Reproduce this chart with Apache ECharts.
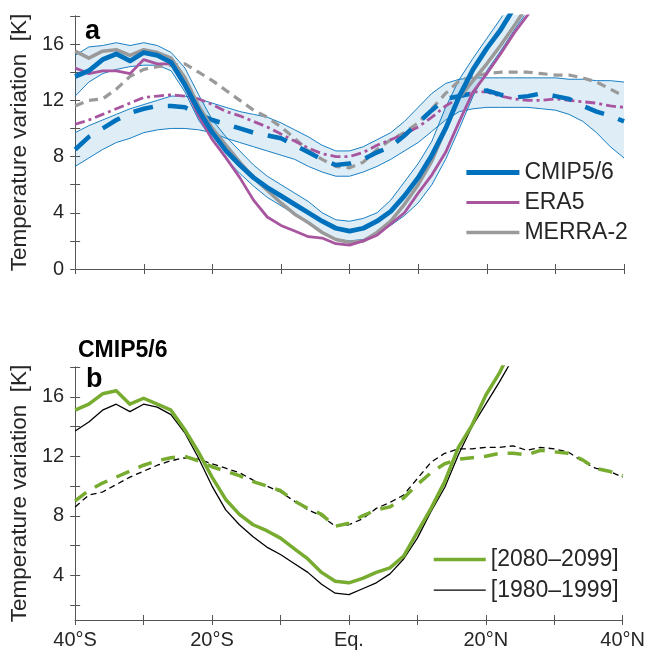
<!DOCTYPE html>
<html>
<head>
<meta charset="utf-8">
<script src="https://cdn.jsdelivr.net/npm/echarts@6/dist/echarts.min.js"></script>
<style>
  html, body { margin: 0; padding: 0; background: #fff; }
  #chart { width: 648px; height: 657px; }
</style>
</head>
<body>
<div id="chart"></div>
<script>
// latitude grid, 2 degree steps
const lat = [-40,-38,-36,-34,-32,-30,-28,-26,-24,-22,-20,-18,-16,-14,-12,-10,-8,-6,-4,-2,0,
             2,4,6,8,10,12,14,16,18,20,22,24,26,28,30,32,34,36,38,40];
const latLabels = {'-40': '40°S', '-20': '20°S', '0': 'Eq.', '20': '20°N', '40': '40°N'};

// panel a
const cmipSolid   = [13.7,14.1,14.9,15.3,14.8,15.4,15.2,14.7,13.1,11.3,9.7,8.4,7.4,6.5,5.8,5.2,4.6,4.0,3.4,2.9,2.7,
                     2.9,3.4,4.1,5.2,6.5,8.1,10.0,12.3,14.2,15.7,17.0,18.6,null,null,null,null,null,null,null,null];
const cmipSolidHi = [15.2,15.8,15.9,16.1,15.9,16.1,15.9,15.4,14.3,12.4,10.6,9.4,8.4,7.4,6.6,6.0,5.4,4.8,4.0,3.5,3.4,
                     3.6,4.0,4.9,6.2,7.5,9.1,11.5,13.5,15.0,16.4,17.8,19.3,20.8,null,null,null,null,null,null,null];
const cmipSolidLo = [12.3,13.3,13.9,14.2,14.4,14.5,14.5,14.1,12.6,10.6,9.2,7.8,6.8,5.9,5.1,4.5,3.9,3.2,2.6,2.1,2.0,
                     2.1,2.5,3.1,3.8,4.7,6.0,7.8,10.0,12.3,14.1,15.5,17.0,18.4,null,null,null,null,null,null,null];
const cmipDash    = [8.5,9.4,10.0,10.6,11.1,11.4,11.6,11.6,11.5,11.0,10.6,10.3,10.0,9.7,9.5,9.3,8.8,8.3,7.8,7.4,7.5,
                     7.8,8.3,8.7,9.5,10.4,11.3,12.1,12.3,12.5,12.7,12.4,12.2,12.3,12.5,12.3,12.1,11.6,11.2,10.9,10.5];
const cmipDashHi  = [9.7,10.2,10.6,11.0,11.4,11.7,12.0,12.3,12.3,12.1,11.8,11.5,11.2,11.0,10.8,10.4,9.9,9.4,8.8,8.4,8.4,
                     8.7,9.2,9.7,10.5,11.5,12.5,13.2,13.5,13.6,13.6,13.6,13.6,13.6,13.6,13.6,13.5,13.5,13.4,13.4,13.3];
const cmipDashLo  = [7.3,7.9,8.5,9.0,9.3,9.7,9.9,10.0,10.0,9.9,9.7,9.3,9.0,8.7,8.4,8.1,7.8,7.3,6.9,6.6,6.6,
                     6.9,7.3,7.8,8.4,9.0,9.8,10.6,11.2,11.4,11.5,11.5,11.5,11.5,11.4,11.3,11.0,10.5,9.7,8.7,7.9];
const era5Solid   = [14.3,13.9,14.1,14.1,13.9,14.9,14.6,14.6,13.0,10.9,9.2,7.9,6.5,4.9,3.7,3.1,2.7,2.3,2.2,1.8,1.7,
                     2.0,2.4,3.2,4.0,5.4,6.7,8.3,10.5,12.6,13.9,15.3,16.8,18.1,19.4,null,null,null,null,null,null];
const era5Dash    = [10.3,10.6,11.0,11.4,11.8,12.2,12.3,12.4,12.3,12.1,11.7,11.2,10.9,10.5,10.1,9.6,9.1,8.6,8.2,8.0,8.0,
                     8.3,8.8,9.2,9.6,10.1,10.8,11.6,12.2,12.6,12.6,12.3,12.1,12.0,12.0,12.1,12.0,11.9,11.8,11.6,11.5];
const merraSolid  = [15.5,15.0,15.5,15.6,15.2,15.6,15.4,15.0,13.6,11.6,10.0,8.8,7.6,6.5,5.6,4.7,3.9,3.3,2.6,2.1,1.9,
                     2.0,2.6,3.4,4.6,6.0,7.7,10.0,12.2,13.4,14.6,15.9,17.3,18.8,null,null,null,null,null,null,null];
const merraDash   = [11.6,12.0,12.1,12.8,13.7,14.2,14.4,14.5,14.6,14.0,13.4,12.7,12.0,11.3,10.8,10.1,9.3,8.4,7.8,7.3,7.2,
                     7.6,8.5,9.2,9.7,10.4,11.4,12.5,13.4,13.7,13.9,14.0,14.0,14.0,13.9,13.8,13.8,13.6,13.3,12.8,12.3];

// panel b (CMIP5/6 periods)
const futSolid  = [15.1,15.5,16.2,16.4,15.5,15.9,15.5,15.1,13.8,12.3,10.6,9.1,8.1,7.4,7.0,6.5,5.8,5.1,4.2,3.6,3.5,
                   3.8,4.2,4.5,5.3,6.9,8.5,10.3,12.6,14.1,16.1,17.6,19.5,null,null,null,null,null,null,null,null];
const histSolid = [13.7,14.3,15.1,15.5,15.0,15.5,15.3,14.8,13.6,11.9,10.0,8.4,7.4,6.6,5.9,5.4,4.8,4.2,3.4,2.8,2.7,
                   3.1,3.5,4.1,5.1,6.5,8.3,9.9,12.1,14.0,15.5,17.0,18.6,null,null,null,null,null,null,null,null];
const futDash   = [9.0,9.7,10.2,10.6,11.0,11.4,11.7,11.9,12.0,11.7,11.3,11.0,10.7,10.3,10.0,9.7,9.0,8.5,8.1,7.3,7.5,
                   8.0,8.4,8.6,9.2,10.1,10.9,11.5,11.8,11.9,12.0,12.2,12.2,12.1,12.4,12.3,12.2,11.8,11.2,11.0,10.7];
const histDash  = [8.6,9.4,9.6,10.1,10.6,11.0,11.4,11.7,11.9,11.8,11.5,11.2,10.9,10.4,10.0,9.6,9.0,8.4,8.0,7.3,7.4,
                   7.8,8.5,8.9,9.4,10.5,11.6,12.2,12.5,12.5,12.6,12.6,12.7,12.4,12.6,12.5,12.3,11.7,11.2,11.0,10.6];

const yTicksA = [0, 4, 8, 12, 16];
const yMinorA = [0, 2, 4, 6, 8, 10, 12, 14, 16, 18];
const yTicksB = [4, 8, 12, 16];
const yMinorB = [2, 4, 6, 8, 10, 12, 14, 16, 18];

const FONT = '"Liberation Sans", Arial, sans-serif';
const TXT = '#262626';
const AX = '#555555';
const BLUE = '#0072BD', PURPLE = '#A8559F', GRAY = '#9A9A9A', GREEN = '#77AC30';
const BANDFILL = 'rgba(0,114,189,0.13)';

function diff(hi, lo) {
    return hi.map((v, i) => (v == null || lo[i] == null) ? null : +(v - lo[i]).toFixed(2));
}

function line(name, data, gi, color, width, type, z) {
    return {
        name: name, type: 'line', data: data,
        xAxisIndex: gi * 2, yAxisIndex: gi * 2,
        symbol: 'none', silent: true, z: z || 2,
        color: color,
        lineStyle: {color: color, width: width, type: type || 'solid', cap: 'butt', join: 'round'}
    };
}

// shaded spread: invisible lower line + stacked difference with area fill
function band(id, hi, lo) {
    return [
        {type: 'line', data: lo, stack: id, symbol: 'none', silent: true, z: 1,
         lineStyle: {opacity: 0}, xAxisIndex: 0, yAxisIndex: 0},
        {type: 'line', data: diff(hi, lo), stack: id, symbol: 'none', silent: true, z: 1,
         lineStyle: {opacity: 0}, areaStyle: {color: BANDFILL, opacity: 1}, xAxisIndex: 0, yAxisIndex: 0}
    ];
}

// two axes per side so the ticks cross the axis line
function xAxes(gi, showLabels) {
    const base = {
        type: 'category', data: lat, gridIndex: gi, boundaryGap: false, position: 'bottom',
        axisLine: {lineStyle: {color: AX, width: 1}},
        axisTick: {interval: 4, length: 5, lineStyle: {color: AX}},
        axisLabel: {show: false}, splitLine: {show: false}
    };
    const main = Object.assign({}, base, {
        axisLabel: {
            show: showLabels, interval: 9, margin: 10, color: TXT, fontSize: 20, fontFamily: FONT,
            formatter: v => latLabels[v] || ''
        }
    });
    const inner = Object.assign({}, base, {axisTick: {interval: 4, inside: true, length: 5, lineStyle: {color: AX}}});
    return [main, inner];
}

function yAxes(gi, min, max, labels, ticks, name) {
    const base = {
        type: 'value', gridIndex: gi, min: min, max: max, position: 'left',
        axisLine: {show: true, lineStyle: {color: AX, width: 1}},
        axisTick: {show: true, length: 5, lineStyle: {color: AX}, customValues: ticks},
        axisLabel: {show: false}, splitLine: {show: false}
    };
    const main = Object.assign({}, base, {
        name: name, nameLocation: 'middle', nameGap: 42,
        nameTextStyle: {color: TXT, fontSize: 22.5, fontFamily: FONT},
        axisLabel: {show: true, margin: 11, color: TXT, fontSize: 20, fontFamily: FONT, customValues: labels}
    });
    const inner = Object.assign({}, base, {
        axisTick: {show: true, inside: true, length: 5, lineStyle: {color: AX}, customValues: ticks}
    });
    return [main, inner];
}

const yTitle = 'Temperature variation  [K]';

const series = [].concat(
    band('solidBand', cmipSolidHi, cmipSolidLo),
    band('dashBand', cmipDashHi, cmipDashLo),
    [
        line('sHi', cmipSolidHi, 0, BLUE, 0.9, 'solid', 2),
        line('sLo', cmipSolidLo, 0, BLUE, 0.9, 'solid', 2),
        line('dHi', cmipDashHi, 0, BLUE, 0.9, 'solid', 2),
        line('dLo', cmipDashLo, 0, BLUE, 0.9, 'solid', 2),
        line('MERRA-2 dash', merraDash, 0, GRAY, 3.2, [9, 6], 3),
        line('ERA5 dash', era5Dash, 0, PURPLE, 2.8, [10, 4, 3, 4], 3),
        line('CMIP5/6 dash', cmipDash, 0, BLUE, 4.5, [20, 15], 3),
        line('MERRA-2', merraSolid, 0, GRAY, 3.5, 'solid', 4),
        line('ERA5', era5Solid, 0, PURPLE, 2.8, 'solid', 4),
        line('CMIP5/6', cmipSolid, 0, BLUE, 4.8, 'solid', 5),
        line('1980 dash', histDash, 1, '#000000', 1.3, [6, 4], 3),
        line('2080 dash', futDash, 1, GREEN, 3.5, [14, 10], 3),
        line('[1980–1999]', histSolid, 1, '#000000', 1.3, 'solid', 4),
        line('[2080–2099]', futSolid, 1, GREEN, 3.5, 'solid', 5)
    ]
);

const legendBase = {
    orient: 'vertical', itemWidth: 53, itemHeight: 14, itemGap: 7, padding: 0,
    selectedMode: false,
    lineStyle: {width: 'inherit'},
    itemStyle: {opacity: 0, borderWidth: 0},
    textStyle: {color: TXT, fontSize: 23, fontFamily: FONT}
};

const chart = echarts.init(document.getElementById('chart'), null, {renderer: 'canvas'});
chart.setOption({
    backgroundColor: '#ffffff',
    animation: false,
    grid: [
        {left: 74, top: 16, width: 550, height: 253},
        {left: 74, top: 367, width: 550, height: 253}
    ],
    xAxis: [].concat(xAxes(0, false), xAxes(1, true)),
    yAxis: [].concat(
        yAxes(0, 0, 18, yTicksA, yMinorA, yTitle),
        yAxes(1, 1, 18, yTicksB, yMinorB, yTitle)
    ),
    legend: [
        Object.assign({}, legendBase, {left: 464, top: 161, data: ['CMIP5/6', 'ERA5', 'MERRA-2']}),
        Object.assign({}, legendBase, {left: 432, top: 548, itemWidth: 52, itemGap: 7.7,
                                       data: ['[2080–2099]', '[1980–1999]']})
    ],
    graphic: [
        {type: 'text', left: 85, top: 18, style: {text: 'a', font: 'bold 27px ' + FONT, fill: '#000'}},
        {type: 'text', left: 86, top: 366, style: {text: 'b', font: 'bold 27px ' + FONT, fill: '#000'}},
        {type: 'text', left: 78, top: 339, style: {text: 'CMIP5/6', font: 'bold 23px ' + FONT, fill: '#000'}}
    ],
    series: series
});
</script>
</body>
</html>
